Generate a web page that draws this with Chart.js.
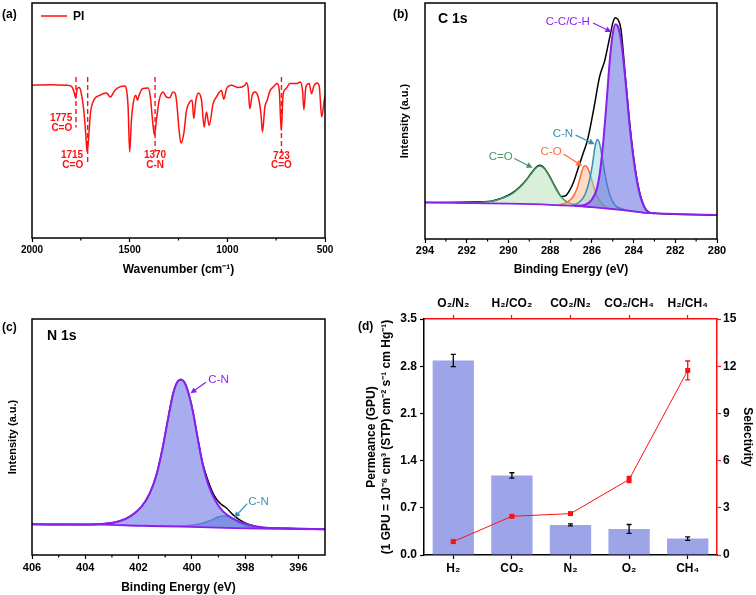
<!DOCTYPE html>
<html>
<head>
<meta charset="utf-8">
<script src="https://cdn.jsdelivr.net/npm/chart.js@4.4.0/dist/chart.umd.min.js"></script>
<style>
  body { margin: 0; background: #fff; width: 756px; height: 595px; position: relative; overflow: hidden; }
  canvas { position: absolute; }
</style>
</head>
<body>
<canvas id="ca" width="378" height="295" style="left:0;top:0"></canvas>
<canvas id="cb" width="378" height="295" style="left:378px;top:0"></canvas>
<canvas id="cc" width="378" height="300" style="left:0;top:295px"></canvas>
<canvas id="cd" width="401" height="300" style="left:355px;top:295px"></canvas>
<script>
// ---------- (a) FTIR of PI ----------
const ftirWn = [2000, 1909, 1824, 1798, 1787, 1776, 1769, 1759, 1749, 1735, 1725, 1718, 1711, 1701, 1684, 1653, 1619, 1599, 1576, 1551,
  1525, 1517, 1508, 1500, 1491, 1482, 1469, 1460, 1452, 1435, 1406, 1394, 1383, 1373, 1363, 1349, 1329, 1312, 1295, 1278,
  1266, 1257, 1247, 1237, 1223, 1209, 1192, 1180, 1172, 1161, 1148, 1132, 1119, 1107, 1093, 1073, 1056, 1030, 1018, 1004,
  979, 944, 910, 902, 893, 885, 873, 859, 842, 828, 820, 808, 796, 782, 768, 757, 745, 734, 724, 714,
  700, 680, 645, 628, 615, 608, 598, 581, 569, 557, 540, 529, 517, 506, 500];
const ftirT = [65.0, 65.2, 65.0, 64.5, 62.8, 59.6, 63.5, 64.0, 62.1, 54.3, 44.4, 36.6, 41.6, 52.9, 58.6, 60.7, 61.7, 60.0, 62.8, 64.3,
  64.7, 63.5, 55.7, 36.6, 50.1, 57.2, 60.7, 58.6, 60.7, 63.5, 63.8, 60.0, 50.1, 43.7, 50.1, 58.6, 62.1, 60.0, 59.7, 62.1,
  61.4, 55.7, 45.8, 40.4, 44.4, 54.3, 57.9, 58.6, 50.8, 58.6, 61.7, 58.6, 47.2, 53.6, 47.9, 57.2, 60.0, 62.8, 59.1, 63.5,
  65.0, 64.0, 65.0, 66.1, 63.5, 55.0, 60.7, 62.1, 60.0, 52.9, 45.1, 55.7, 58.6, 62.6, 64.0, 65.0, 65.7, 62.8, 45.8, 61.4,
  63.5, 65.7, 65.7, 66.4, 62.8, 54.6, 64.3, 65.7, 61.4, 64.7, 66.0, 64.3, 51.5, 57.2, 60.7];
const markWn = [1775, 1715, 1370, 723];
const markLabel = ['1775', '1715', '1370', '723'];
const markGroup = ['C=O', 'C=O', 'C-N', 'C=O'];
const markTop = 68.5;
const markBottom = [47, 32.3, 36.7, 36.2];
const ftirTicks = [2000, 1500, 1000, 500];
const ftirMinor = [1750, 1250, 750];

// ---------- (b) C 1s ----------
const c1sTicks = [294, 292, 290, 288, 286, 284, 282, 280];
const c1sMinor = [293, 291, 289, 287, 285, 283, 281];
const c1sBgE = [294, 290, 288, 287, 286, 285, 284, 283.5, 283, 282, 280];
const c1sBgI = [15.5, 14.95, 14.5, 14.1, 13.5, 12.7, 11.7, 11.1, 10.9, 10.6, 10.2];
const c1sCOE = [292.5, 290.97, 290.33, 289.85, 289.45, 289.13, 288.89, 288.70, 288.52, 288.33, 288.14, 287.93, 287.69, 287.45, 287.14, 286.66, 286.0];
const c1sCOI = [15.3, 15.8, 17.2, 19.0, 21.9, 25.0, 27.8, 29.9, 30.9, 30.2, 28.1, 24.7, 20.7, 17.6, 15.5, 14.2, 13.5];
const c1sCOsE = [287.61, 287.21, 286.90, 286.69, 286.53, 286.42, 286.32, 286.21, 286.05, 285.86, 285.62, 285.30, 284.74, 284.3];
const c1sCOsI = [14.34, 15.4, 17.9, 21.9, 27.1, 30.2, 31.0, 30.2, 26.4, 20.7, 16.1, 13.4, 12.6, 12.0];
const c1sCNE = [286.98, 286.58, 286.34, 286.15, 285.99, 285.86, 285.75, 285.63, 285.51, 285.35, 285.14, 284.90, 284.58, 284.10, 283.46];
const c1sCNI = [14.09, 15.8, 18.6, 23.6, 30.6, 38.4, 42.2, 40.5, 34.8, 26.4, 18.6, 14.4, 12.8, 11.9, 11.08];
const c1sCCE = [286.82, 286.34, 286.02, 285.78, 285.62, 285.46, 285.30, 285.14, 285.01, 284.87, 284.74, 284.58, 284.39, 284.18, 283.97, 283.75, 283.50, 283.27, 282.98];
const c1sCCI = [13.99, 14.4, 16.5, 20.7, 27.8, 40.5, 57.4, 75.7, 86.3, 91.0, 89.8, 82.8, 67.3, 47.5, 32.0, 20.7, 13.7, 11.3, 10.9];
const c1sSumE = [294, 290.97, 290.33, 289.85, 289.45, 289.13, 288.89, 288.70, 288.52, 288.33, 288.14, 287.93, 287.69, 287.45, 287.25, 287.06,
  286.86, 286.66, 286.43, 286.21, 285.92, 285.63, 285.38, 285.14, 284.98, 284.88, 284.74, 284.61, 284.39, 284.18, 283.97, 283.75, 283.50, 283.27, 282.98, 280];
const c1sSumI = [15.5, 15.9, 17.3, 19.3, 22.1, 25.2, 28.1, 30.2, 31.2, 30.5, 28.3, 25.0, 21.0, 18.0, 18.4, 20.7,
  24.5, 29.9, 36.0, 41.9, 54.6, 68.7, 75.7, 85.6, 92.0, 93.8, 92.9, 89.1, 68.5, 48.5, 32.8, 21.3, 14.0, 11.4, 10.9, 10.2];

// ---------- (c) N 1s ----------
const n1sTicks = [406, 404, 402, 400, 398, 396];
const n1sMinor = [405, 403, 401, 399, 397];
const n1sBgE = [406, 403.46, 401.95, 400.41, 399.07, 398.0, 395];
const n1sBgI = [13.0, 12.9, 12.4, 12.0, 11.6, 11.3, 10.9];
const n1sMainE = [406, 404.08, 403.21, 402.70, 402.27, 401.89, 401.58, 401.33, 401.10, 400.89, 400.70, 400.54, 400.41, 400.29, 400.14,
  399.97, 399.80, 399.60, 399.38, 399.13, 398.84, 398.44, 397.94, 397.32, 396.44, 395];
const n1sMainI = [13.0, 12.9, 13.3, 14.4, 16.7, 20.5, 26.1, 33.9, 45.2, 57.9, 68.5, 73.4, 74.4, 73.4, 69.2,
  61.4, 50.8, 38.8, 29.7, 23.3, 18.6, 15.3, 13.0, 11.7, 11.3, 10.9];
const n1sSmallE = [401.20, 400.20, 399.70, 399.32, 399.01, 398.79, 398.57, 398.32, 398.0, 397.57, 396.94];
const n1sSmallI = [12.2, 12.4, 13.1, 14.5, 16.1, 16.5, 16.0, 14.4, 12.4, 11.4, 11.2];
const n1sSumE = [406, 404.08, 403.21, 402.70, 402.27, 401.89, 401.58, 401.33, 401.10, 400.89, 400.70, 400.54, 400.41, 400.29, 400.14,
  399.97, 399.80, 399.60, 399.38, 399.17, 398.94, 398.69, 398.44, 398.19, 397.88, 397.57, 396.94, 395];
const n1sSumI = [13.0, 12.9, 13.3, 14.4, 16.7, 20.5, 26.1, 33.9, 45.2, 57.9, 68.5, 73.4, 74.4, 73.4, 69.2,
  61.4, 50.8, 39.3, 31.1, 25.4, 21.9, 19.8, 16.9, 14.8, 13.0, 12.0, 11.4, 10.9];

// ---------- (d) gas permeation ----------
const gases = ['H₂', 'CO₂', 'N₂', 'O₂', 'CH₄'];
const permeance = [2.885, 1.18, 0.446, 0.387, 0.243];
const permErr = [0.09, 0.04, 0.015, 0.065, 0.025];
const pairs = ['O₂/N₂', 'H₂/CO₂', 'CO₂/N₂', 'CO₂/CH₄', 'H₂/CH₄'];
const selectivity = [0.85, 2.46, 2.63, 4.80, 11.73];
const selErr = [0.1, 0.08, 0.08, 0.2, 0.6];
const permTicks = [0, 0.7, 1.4, 2.1, 2.8, 3.5];
const selTicks = [0, 3, 6, 9, 12, 15];

const FONT = "'Liberation Sans', Arial, Helvetica, sans-serif";
const RED = '#ff1010';
const PURPLE = '#8a1ff0';
Chart.defaults.font.family = FONT;
Chart.defaults.color = '#000';

const pts = (xs, ys) => xs.map((x, i) => ({ x: x, y: ys[i] }));
const fixTicks = vals => s => { s.ticks = vals.map(v => ({ value: v })); };
const bold = (n) => ({ family: FONT, size: n, weight: 'bold' });

const decor = {
  id: 'decor',
  afterDraw(chart, args, o) {
    const ctx = chart.ctx, a = chart.chartArea, sx = chart.scales.x, sy = chart.scales.y;
    ctx.save();
    if (o.minor) {
      ctx.strokeStyle = '#000';
      ctx.lineWidth = 1.2;
      o.minor.forEach(v => {
        const px = sx.getPixelForValue(v);
        ctx.beginPath(); ctx.moveTo(px, a.bottom); ctx.lineTo(px, a.bottom + 2.5); ctx.stroke();
      });
    }
    if (o.box) {
      ctx.strokeStyle = '#000';
      ctx.lineWidth = 1.5;
      ctx.strokeRect(a.left, a.top, a.right - a.left, a.bottom - a.top);
    }
    (o.notes || []).forEach(n => {
      ctx.font = n.font; ctx.fillStyle = n.color; ctx.strokeStyle = n.color;
      ctx.textAlign = n.align; ctx.textBaseline = 'middle';
      n.lines.forEach(l => ctx.fillText(l[0], sx.getPixelForValue(n.x), sy.getPixelForValue(l[1])));
      if (n.arrow) {
        const x1 = sx.getPixelForValue(n.arrow[0]), y1 = sy.getPixelForValue(n.arrow[1]);
        const x2 = sx.getPixelForValue(n.arrow[2]), y2 = sy.getPixelForValue(n.arrow[3]);
        const ang = Math.atan2(y2 - y1, x2 - x1);
        ctx.lineWidth = 1.2;
        ctx.beginPath(); ctx.moveTo(x1, y1); ctx.lineTo(x2 - 4 * Math.cos(ang), y2 - 4 * Math.sin(ang)); ctx.stroke();
        ctx.beginPath();
        ctx.moveTo(x2, y2);
        ctx.lineTo(x2 - 6 * Math.cos(ang) + 3 * Math.sin(ang), y2 - 6 * Math.sin(ang) - 3 * Math.cos(ang));
        ctx.lineTo(x2 - 6 * Math.cos(ang) - 3 * Math.sin(ang), y2 - 6 * Math.sin(ang) + 3 * Math.cos(ang));
        ctx.closePath(); ctx.fill();
      }
    });
    if (o.legend) {
      const l = o.legend;
      ctx.strokeStyle = l.color; ctx.lineWidth = 1.5;
      ctx.beginPath(); ctx.moveTo(l.x, l.y); ctx.lineTo(l.x + 26, l.y); ctx.stroke();
      ctx.fillStyle = '#000'; ctx.font = 'bold 12px ' + FONT; ctx.textAlign = 'left'; ctx.textBaseline = 'middle';
      ctx.fillText(l.text, l.x + 32, l.y + 1);
    }
    (o.texts || []).forEach(t => {
      ctx.font = t.font; ctx.fillStyle = '#000'; ctx.textAlign = 'left'; ctx.textBaseline = 'middle';
      ctx.fillText(t.text, t.x, t.y);
    });
    ctx.restore();
  }
};

const errorBars = {
  id: 'errorBars',
  afterDatasetsDraw(chart, args, o) {
    const ctx = chart.ctx;
    (o.sets || []).forEach(s => {
      const meta = chart.getDatasetMeta(s.dataset);
      const ys = chart.scales[meta.yAxisID];
      const vals = chart.data.datasets[s.dataset].data;
      ctx.save();
      ctx.strokeStyle = s.color; ctx.lineWidth = 1.3;
      meta.data.forEach((el, i) => {
        const x = el.x, t = ys.getPixelForValue(vals[i] + s.err[i]), b = ys.getPixelForValue(vals[i] - s.err[i]);
        ctx.beginPath();
        ctx.moveTo(x, t); ctx.lineTo(x, b);
        ctx.moveTo(x - s.cap, t); ctx.lineTo(x + s.cap, t);
        ctx.moveTo(x - s.cap, b); ctx.lineTo(x + s.cap, b);
        ctx.stroke();
      });
      ctx.restore();
    });
  }
};

const baseOpts = {
  responsive: false, animation: false, devicePixelRatio: 1,
  events: []
};

const xAxis = (min, max, ticks, h, fs, pad, title, titlePad) => ({
  type: 'linear', reverse: true, min: min, max: max,
  afterBuildTicks: fixTicks(ticks),
  afterFit: s => { s.height = h; },
  grid: { display: true, drawOnChartArea: false, tickLength: 4, tickColor: '#000', tickWidth: 1.2 },
  border: { display: false },
  ticks: { color: '#000', font: bold(fs), padding: pad, maxRotation: 0, autoSkip: false, callback: v => String(v) },
  title: { display: true, text: title, color: '#000', font: bold(12), padding: { top: 0, bottom: titlePad } }
});

// ---------- chart (a) ----------
const markSets = markWn.map((w, i) => ({
  data: [{ x: w, y: markTop }, { x: w, y: markBottom[i] }],
  borderColor: RED, borderWidth: 1.4, borderDash: [5, 3], pointRadius: 0
}));
new Chart(document.getElementById('ca'), {
  type: 'line',
  data: {
    datasets: [{ data: pts(ftirWn, ftirT), borderColor: RED, borderWidth: 1.5, pointRadius: 0, cubicInterpolationMode: 'monotone' }].concat(markSets)
  },
  options: Object.assign({}, baseOpts, {
    layout: { padding: { left: 32, top: 3, right: 53, bottom: 0 } },
    plugins: {
      legend: { display: false }, tooltip: { enabled: false },
      decor: {
        box: true, minor: ftirMinor,
        legend: { x: 41, y: 16, color: RED, text: 'PI' },
        texts: [{ text: '(a)', x: 2, y: 15, font: 'bold 12px ' + FONT }],
        notes: [
          { x: 1794, align: 'right', font: 'bold 10px ' + FONT, color: RED, lines: [[markLabel[0], 51.1], [markGroup[0], 46.8]] },
          { x: 1738, align: 'right', font: 'bold 10px ' + FONT, color: RED, lines: [[markLabel[1], 35.3], [markGroup[1], 31.1]] },
          { x: markWn[2], align: 'center', font: 'bold 10px ' + FONT, color: RED, lines: [[markLabel[2], 35.3], [markGroup[2], 31.1]] },
          { x: markWn[3], align: 'center', font: 'bold 10px ' + FONT, color: RED, lines: [[markLabel[3], 35.0], [markGroup[3], 31.1]] }
        ]
      }
    },
    scales: {
      x: xAxis(500, 2000, ftirTicks, 57, 10, 2, 'Wavenumber (cm⁻¹)', 18),
      y: { display: false, min: 0, max: 100 }
    }
  }),
  plugins: [decor]
});

// ---------- chart (b) ----------
const peak = (xs, ys, line, fill, w) => ({
  data: pts(xs, ys), borderColor: line, backgroundColor: fill, borderWidth: w || 1.5,
  pointRadius: 0, cubicInterpolationMode: 'monotone', fill: fill ? 0 : false
});
new Chart(document.getElementById('cb'), {
  type: 'line',
  data: {
    datasets: [
      peak(c1sBgE, c1sBgI, PURPLE, null, 1.8),
      peak(c1sCCE, c1sCCI, PURPLE, 'rgba(95,105,225,0.55)', 2),
      peak(c1sCNE, c1sCNI, '#3b8fb3', 'rgba(140,215,220,0.45)'),
      peak(c1sCOsE, c1sCOsI, '#ff6a3a', 'rgba(255,175,125,0.45)'),
      peak(c1sCOE, c1sCOI, '#3e9c62', 'rgba(150,210,150,0.35)'),
      peak(c1sSumE, c1sSumI, '#000', null, 1.5)
    ]
  },
  options: Object.assign({}, baseOpts, {
    layout: { padding: { left: 0, top: 3, right: 39, bottom: 0 } },
    plugins: {
      legend: { display: false }, tooltip: { enabled: false },
      decor: {
        box: true, minor: c1sMinor,
        texts: [{ text: '(b)', x: 15, y: 15, font: 'bold 12px ' + FONT }, { text: 'C 1s', x: 60, y: 19, font: 'bold 14px ' + FONT }],
        notes: [
          { x: 286.10, align: 'right', font: '11.5px ' + FONT, color: PURPLE, lines: [['C-C/C-H', 92.0]], arrow: [285.94, 91.5, 285.06, 87.7] },
          { x: 286.90, align: 'right', font: '11.5px ' + FONT, color: '#3b8fb3', lines: [['C-N', 44.4]], arrow: [286.78, 44.0, 285.86, 40.2] },
          { x: 287.45, align: 'right', font: '11.5px ' + FONT, color: '#ff6a3a', lines: [['C-O', 37.0]], arrow: [287.36, 36.0, 286.46, 31.0] },
          { x: 289.80, align: 'right', font: '11.5px ' + FONT, color: '#3e9c62', lines: [['C=O', 34.8]], arrow: [289.72, 34.1, 288.84, 30.2] }
        ]
      }
    },
    scales: {
      x: xAxis(280, 294, c1sTicks, 56, 11, 1, 'Binding Energy (eV)', 18),
      y: {
        min: 0, max: 100, afterFit: s => { s.width = 47; },
        grid: { display: false }, border: { display: false }, ticks: { display: false },
        title: { display: true, text: 'Intensity (a.u.)', color: '#000', font: bold(11), padding: { top: 20, bottom: 0 } }
      }
    }
  }),
  plugins: [decor]
});

// ---------- chart (c) ----------
new Chart(document.getElementById('cc'), {
  type: 'line',
  data: {
    datasets: [
      peak(n1sBgE, n1sBgI, PURPLE, null, 1.8),
      peak(n1sMainE, n1sMainI, PURPLE, 'rgba(95,105,225,0.55)', 2),
      peak(n1sSmallE, n1sSmallI, '#4a98c0', 'rgba(70,120,200,0.45)'),
      peak(n1sSumE, n1sSumI, '#000', null, 1.5)
    ]
  },
  options: Object.assign({}, baseOpts, {
    layout: { padding: { left: 0, top: 24, right: 53, bottom: 0 } },
    plugins: {
      legend: { display: false }, tooltip: { enabled: false },
      decor: {
        box: true, minor: n1sMinor,
        texts: [{ text: '(c)', x: 2, y: 33, font: 'bold 12px ' + FONT }, { text: 'N 1s', x: 47, y: 41, font: 'bold 14px ' + FONT }],
        notes: [
          { x: 399.38, align: 'left', font: '11.5px ' + FONT, color: PURPLE, lines: [['C-N', 74.4]], arrow: [399.47, 73.2, 400.05, 68.5] },
          { x: 397.88, align: 'left', font: '11.5px ' + FONT, color: '#3b8fb3', lines: [['C-N', 22.6]], arrow: [397.92, 21.8, 398.41, 15.8] }
        ]
      }
    },
    scales: {
      x: xAxis(395, 406, n1sTicks, 40, 11, 2, 'Binding Energy (eV)', 0),
      y: {
        min: 0, max: 100, afterFit: s => { s.width = 32; },
        grid: { display: false }, border: { display: false }, ticks: { display: false },
        title: { display: true, text: 'Intensity (a.u.)', color: '#000', font: bold(11), padding: { top: 6, bottom: 0 } }
      }
    }
  }),
  plugins: [decor]
});

// ---------- chart (d) ----------
new Chart(document.getElementById('cd'), {
  data: {
    labels: gases,
    datasets: [
      {
        type: 'line', data: selectivity, xAxisID: 'x2', yAxisID: 'y2', borderColor: RED, backgroundColor: RED,
        borderWidth: 1, pointStyle: 'rect', pointRadius: 3.5, pointBorderWidth: 0, order: 0
      },
      {
        type: 'bar', data: permeance, xAxisID: 'x', yAxisID: 'y', backgroundColor: 'rgba(130,138,225,0.78)',
        barPercentage: 0.705, categoryPercentage: 1, grouped: false, order: 1
      }
    ]
  },
  options: Object.assign({}, baseOpts, {
    layout: { padding: 0 },
    plugins: {
      legend: { display: false }, tooltip: { enabled: false },
      errorBars: {
        sets: [
          { dataset: 1, err: permErr, color: '#000', cap: 2.5 },
          { dataset: 0, err: selErr, color: RED, cap: 2.5 }
        ]
      },
      decor: { texts: [{ text: '(d)', x: 3, y: 32, font: 'bold 12px ' + FONT }] }
    },
    scales: {
      x: {
        type: 'category', position: 'bottom', offset: true, afterFit: s => { s.height = 40; },
        grid: { display: true, offset: false, drawOnChartArea: false, tickLength: 4, tickColor: '#000', tickWidth: 1.2 },
        border: { display: true, color: '#000', width: 1.5 },
        ticks: { color: '#000', font: bold(12), padding: 2, maxRotation: 0 }
      },
      x2: {
        type: 'category', position: 'top', labels: pairs, offset: true, afterFit: s => { s.height = 24; },
        grid: { display: true, offset: false, drawOnChartArea: false, tickLength: 4, tickColor: RED, tickWidth: 1.2 },
        border: { display: true, color: RED, width: 1.5 },
        ticks: { color: '#000', font: bold(12), padding: 4, maxRotation: 0 }
      },
      y: {
        position: 'left', min: 0, max: 3.5, afterBuildTicks: fixTicks(permTicks), afterFit: s => { s.width = 69; },
        grid: { display: true, drawOnChartArea: false, tickLength: 4, tickColor: '#000', tickWidth: 1.2 },
        border: { display: true, color: '#000', width: 1.5 },
        ticks: { color: '#000', font: bold(12), padding: 3, callback: v => v.toFixed(1) },
        title: {
          display: true, color: '#000', font: { family: FONT, size: 12, weight: 'bold', lineHeight: 1.25 },
          text: ['Permeance (GPU)', '(1 GPU = 10⁻⁶ cm³ (STP) cm⁻² s⁻¹ cm Hg⁻¹)'], padding: { top: 9, bottom: 0 }
        }
      },
      y2: {
        position: 'right', min: 0, max: 15, afterBuildTicks: fixTicks(selTicks), afterFit: s => { s.width = 39; },
        grid: { display: true, drawOnChartArea: false, tickLength: 4, tickColor: RED, tickWidth: 1.2 },
        border: { display: true, color: RED, width: 1.5 },
        ticks: { color: '#000', font: bold(12), padding: 2, callback: v => String(v) },
        title: { display: true, text: 'Selectivity', color: '#000', font: bold(12), padding: { top: 1, bottom: 0 } }
      }
    }
  }),
  plugins: [decor, errorBars]
});
</script>
</body>
</html>
